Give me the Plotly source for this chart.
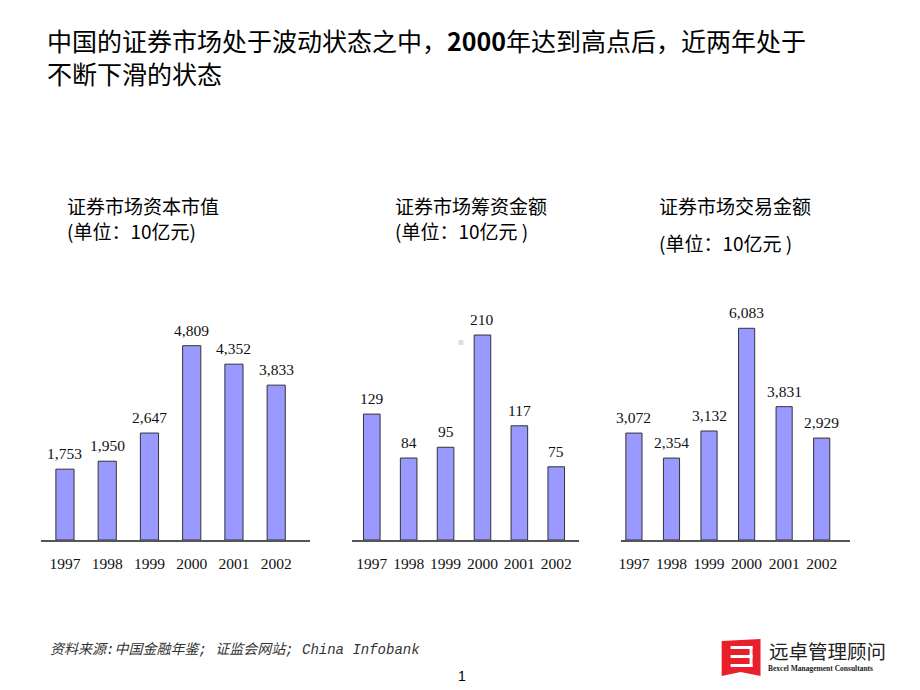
import plotly.graph_objects as go

years = ["1997", "1998", "1999", "2000", "2001", "2002"]
market_cap = [1753, 1950, 2647, 4809, 4352, 3833]
funds_raised = [129, 84, 95, 210, 117, 75]
turnover = [3072, 2354, 3132, 6083, 3831, 2929]

titles = ["证券市场资本市值", "证券市场筹资金额", "证券市场交易金额"]
units = ["(单位：10亿元)", "(单位：10亿元 )", "(单位：10亿元 )"]

W, H = 920, 690
BAR = "#9999FF"
EDGE = "#333333"
SERIF = "Liberation Serif, Times New Roman, serif"
CJK = "Noto Sans CJK SC, sans-serif"

def px(x):
    return x / W

def py(y):
    return 1 - y / H

panels = [
    dict(data=market_cap, xd=[38, 308], xr=[-0.57, 5.80], ymax=5940, width=0.43,
         tx=63, ty=[205, 230]),
    dict(data=funds_raised, xd=[350, 578], xr=[-0.54, 5.62], ymax=245.9, width=0.45,
         tx=392, ty=[205, 230]),
    dict(data=turnover, xd=[620, 850], xr=[-0.345, 5.76], ymax=6896, width=0.43,
         tx=657, ty=[205, 242]),
]

fig = go.Figure()
annotations = []
layout = {}
for i, p in enumerate(panels):
    n = "" if i == 0 else str(i + 1)
    xa, ya = "x" + n, "y" + n
    fig.add_trace(go.Bar(
        x=years, y=p["data"], xaxis=xa, yaxis=ya, width=p["width"],
        marker=dict(color=BAR, line=dict(color=EDGE, width=1)),
        showlegend=False, hoverinfo="x+y",
    ))
    layout["xaxis" + n] = dict(
        domain=[px(p["xd"][0]), px(p["xd"][1])], anchor=ya, range=p["xr"],
        type="category", showline=True, linecolor="#555555", linewidth=1.5,
        ticks="", showgrid=False, zeroline=False, ticklabelstandoff=9,
        tickfont=dict(family=SERIF, size=15.5, color="#111111"), fixedrange=True,
    )
    layout["yaxis" + n] = dict(
        domain=[py(540), py(300)], anchor=xa, range=[0, p["ymax"]],
        visible=False, showgrid=False, zeroline=False, fixedrange=True,
    )
    for j, v in enumerate(p["data"]):
        annotations.append(dict(
            x=j, y=v, xref=xa, yref=ya, text=f"{v:,}", showarrow=False,
            yanchor="bottom", yshift=5,
            font=dict(family=SERIF, size=15.5, color="#111111"),
        ))
    t0, t1 = p["ty"]
    if t1 - t0 < 30:
        annotations.append(dict(
            x=px(p["tx"]), y=py((t0 + t1) / 2), xref="paper", yref="paper",
            text=titles[i] + "<br>" + units[i], showarrow=False, align="left",
            xanchor="left", yanchor="middle", borderpad=0,
            font=dict(family=CJK, size=19, color="#000000"),
        ))
    else:
        for txt, yy in ((titles[i], t0), (units[i], t1)):
            annotations.append(dict(
                x=px(p["tx"]), y=py(yy), xref="paper", yref="paper",
                text=txt, showarrow=False, xanchor="left", yanchor="middle",
                borderpad=0, font=dict(family=CJK, size=19, color="#000000"),
            ))

# main title (two lines)
annotations.append(dict(
    x=px(43), y=py(56), xref="paper", yref="paper",
    text="中国的证券市场处于波动状态之中，<b>2000</b>年达到高点后，近两年处于<br>不断下滑的状态",
    showarrow=False, xanchor="left", yanchor="middle", align="left", borderpad=0,
    font=dict(family=CJK, size=25, color="#000000"),
))
# footer
annotations.append(dict(
    x=px(45), y=py(650), xref="paper", yref="paper",
    text="资料来源:中国金融年鉴; 证监会网站; China Infobank",
    showarrow=False, xanchor="left", yanchor="middle",
    font=dict(family="Liberation Mono, Noto Sans CJK SC, monospace", size=14,
              color="#333333", style="italic"),
))
annotations.append(dict(
    x=px(461), y=py(676), xref="paper", yref="paper", text="1",
    showarrow=False, xanchor="center", yanchor="middle",
    font=dict(family="Liberation Sans, Arial", size=14, color="#000000"),
))
# logo text
annotations.append(dict(
    x=px(768), y=py(650), xref="paper", yref="paper", text="远卓管理顾问",
    showarrow=False, xanchor="left", yanchor="middle", borderpad=0,
    font=dict(family=CJK, size=19.5, color="#222222"),
))
annotations.append(dict(
    x=px(767), y=py(668), xref="paper", yref="paper",
    text="<b>Bexcel Management Consultants</b>",
    showarrow=False, xanchor="left", yanchor="middle", borderpad=0,
    font=dict(family=SERIF, size=7.5, color="#222222"),
))

shapes = [
    # red logo mark
    dict(type="path", xref="paper", yref="paper",
         path=f"M {px(721)} {py(641)} L {px(760)} {py(639)} L {px(760)} {py(676)} "
              f"L {px(740)} {py(672)} L {px(721)} {py(676)} Z",
         fillcolor="#E8202A", line=dict(width=0)),
    dict(type="rect", xref="paper", yref="paper", x0=px(730), x1=px(752),
         y0=py(649), y1=py(646), fillcolor="white", line=dict(width=0)),
    dict(type="rect", xref="paper", yref="paper", x0=px(730), x1=px(752),
         y0=py(658), y1=py(655), fillcolor="white", line=dict(width=0)),
    dict(type="rect", xref="paper", yref="paper", x0=px(730), x1=px(752),
         y0=py(667), y1=py(664), fillcolor="white", line=dict(width=0)),
    dict(type="rect", xref="paper", yref="paper", x0=px(749), x1=px(752),
         y0=py(667), y1=py(646), fillcolor="white", line=dict(width=0)),
    # small grey artefact
    dict(type="rect", xref="paper", yref="paper", x0=px(457), x1=px(462),
         y0=py(345), y1=py(340), fillcolor="#DDDDDD", line=dict(width=0)),
]

fig.update_layout(
    width=W, height=H, margin=dict(l=0, r=0, t=0, b=0),
    paper_bgcolor="white", plot_bgcolor="white",
    annotations=annotations, shapes=shapes, bargap=0.5,
    **layout,
)
fig.write_html(
    "out.html",
    config={"displayModeBar": False},
    post_script="document.body.style.margin='0';document.body.style.overflow='hidden';",
)
